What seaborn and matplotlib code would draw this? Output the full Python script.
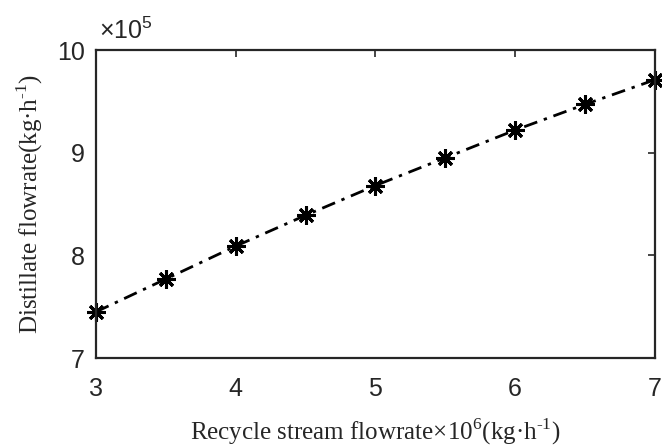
import matplotlib
matplotlib.use("Agg")
import matplotlib.pyplot as plt
import seaborn as sns
import pandas as pd

recycle = [3.0, 3.5, 4.0, 4.5, 5.0, 5.5, 6.0, 6.5, 7.0]
distillate = [7.45, 7.77, 8.09, 8.39, 8.68, 8.95, 9.22, 9.47, 9.71]  # x10^5
xticks = [3, 4, 5, 6, 7]
yticks = [7, 8, 9, 10]

sns.set_style("white")
plt.rcParams['font.family'] = ['Liberation Sans', 'DejaVu Sans']
plt.rcParams['mathtext.fontset'] = 'custom'
plt.rcParams['mathtext.rm'] = 'Liberation Serif'
plt.rcParams['mathtext.sf'] = 'Liberation Sans'

df = pd.DataFrame({"x": recycle, "y": distillate})
fig = plt.figure(figsize=(6.62, 4.47), dpi=100)
ax = fig.add_axes([0.145, 0.199, 0.844, 0.689])
sns.lineplot(data=df, x="x", y="y", ax=ax, color="black", linestyle=(0, (5, 2.5, 1.2, 2.5)),
             linewidth=2, marker=(8, 2, 0), markersize=13,
             markeredgewidth=2.2, markeredgecolor="black", clip_on=False)
ax.set_xlim(3, 7)
ax.set_ylim(7, 10)
ax.set_xticks(xticks)
ax.set_yticks(yticks)
ax.set_xticklabels([str(v) for v in xticks])
ax.set_yticklabels([str(v) for v in yticks])
ax.tick_params(direction="in", length=5, width=1.2, top=True, right=True,
               labelsize=18, colors="#262626")
ax.tick_params(axis="x", pad=14)
ax.tick_params(axis="y", pad=8)
for s in ax.spines.values():
    s.set_visible(True)
    s.set_color("#262626")
    s.set_linewidth(1.6)
ax.set_xlabel(r"Recycle stream flowrate×10$^{6}$(kg·h$^{\text{-}1}$)",
              family="Liberation Serif", fontsize=18, labelpad=11)
ax.set_ylabel(r"Distillate flowrate(kg·h$^{\text{-}1}$)",
              family="Liberation Serif", fontsize=18, labelpad=9)
ax.text(0.006, 1.02, r"×10$^{\mathsf{5}}$", transform=ax.transAxes, fontsize=18,
        ha="left", va="bottom", color="#262626")
fig.savefig("out.png", dpi=100)
